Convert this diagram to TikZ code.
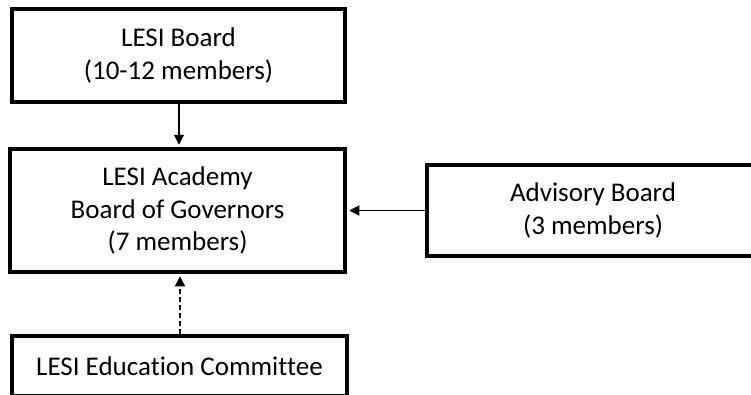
\documentclass[tikz,border=0pt]{standalone}
\usepackage{fontspec}
\setmainfont[Ligatures={NoCommon}]{Carlito}
\usetikzlibrary{arrows.meta}
\tikzset{
  box/.style={draw=black, line width=4.5pt, fill=white, align=center, inner sep=0pt,
    font=\fontsize{27}{32.5}\selectfont, text=black},
  conn/.style={line width=1.2pt, -{Triangle[length=10pt,width=10pt]}, shorten >=2pt},
}
\begin{document}
\begin{tikzpicture}[x=1pt,y=-1pt]
\useasboundingbox (0,0) rectangle (751,394);
\clip (0,0) rectangle (751,394);
\fill[white] (0,0) rectangle (751,394);
\node[box, minimum width=333pt, minimum height=93pt] (board) at (178.5,55.5) {LESI Board\\(10-12 members)};
\node[box, minimum width=335pt, minimum height=123pt] (academy) at (177.5,210.5) {LESI Academy\\Board of Governors\\(7 members)};
\node[box, minimum width=332pt, minimum height=91pt] (advisory) at (593,210.5) {Advisory Board\\(3 members)};
\node[box, minimum width=335pt, minimum height=60pt] (edu) at (179.5,366) {LESI Education Committee};
\draw[conn] (board.south -| 179,0) -- (academy.north -| 179,0);
\draw[conn, dash pattern=on 5pt off 3pt] (edu.north -| 180,0) -- (academy.south -| 180,0);
\draw[conn] (advisory.west) -- (academy.east);
\end{tikzpicture}
\end{document}
